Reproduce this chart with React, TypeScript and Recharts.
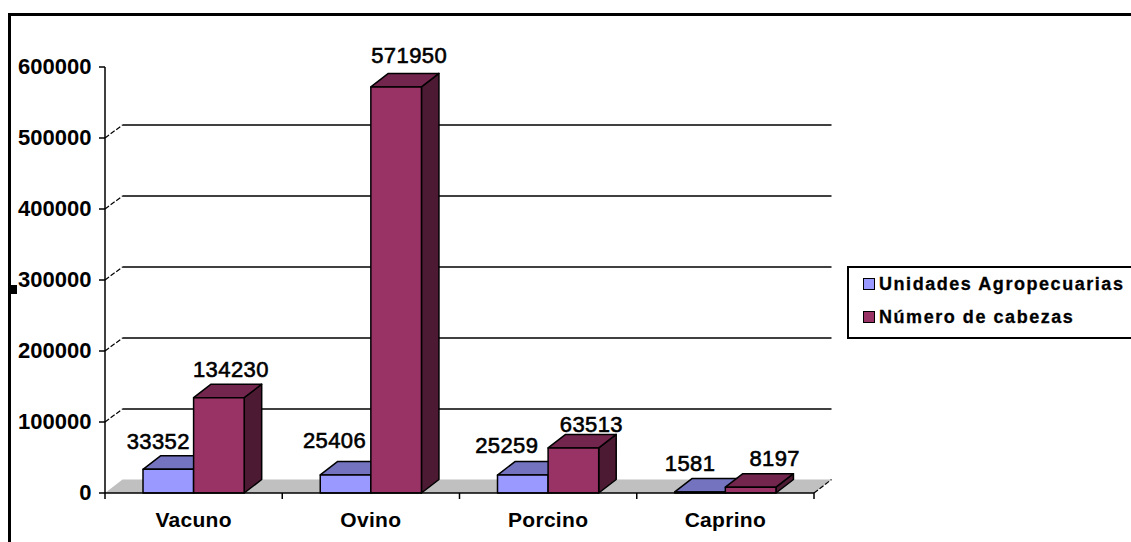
import { Bar, BarChart, CartesianGrid, LabelList, Legend, XAxis, YAxis } from "recharts";

const especies = ["Vacuno", "Ovino", "Porcino", "Caprino"];
const unidades = [33352, 25406, 25259, 1581];
const cabezas = [134230, 571950, 63513, 8197];
const yTicks = [0, 100000, 200000, 300000, 400000, 500000, 600000];

const rows = especies.map((nombre, i) => ({ nombre, unidades: unidades[i], cabezas: cabezas[i] }));

const FONT = "'Liberation Sans', Arial, sans-serif";
const DEPTH_X = 17.5;
const DEPTH_Y = 13.5;
const WALL_Y = 13;

// hand-placed label shifts, one [dx, dy] per category
const unidadesNudge = [[-10, -28], [-11, -35], [-16, -30], [-10, -29]];
const cabezasNudge = [[12, -29], [13, -32], [18, -24], [24, -29]];

const Box3D = ({ x, y, width, height, front, top, side }: any) => {
  const r = x + width;
  const b = y + height;
  return (
    <g stroke="#000" strokeWidth={1.5} strokeLinejoin="round">
      <polygon points={`${r},${y} ${r + DEPTH_X},${y - DEPTH_Y} ${r + DEPTH_X},${b - DEPTH_Y} ${r},${b}`} fill={side} />
      <polygon points={`${x},${y} ${x + DEPTH_X},${y - DEPTH_Y} ${r + DEPTH_X},${y - DEPTH_Y} ${r},${y}`} fill={top} />
      <rect x={x} y={y} width={width} height={height} fill={front} />
    </g>
  );
};

// floor for the zero line, back-wall rule for the others, nothing at the top
const WallLine = ({ x1, x2, y1, y, height }: any) => {
  if (y1 <= y + 0.5) return <g />;
  if (y1 >= y + height - 0.5) {
    return (
      <g>
        <polygon
          points={`${x1},${y1} ${x1 + DEPTH_X},${y1 - DEPTH_Y} ${x2 + DEPTH_X},${y1 - DEPTH_Y} ${x2},${y1}`}
          fill="#c0c0c0"
        />
        <line x1={x2} y1={y1} x2={x2 + DEPTH_X} y2={y1 - DEPTH_Y} stroke="#000" strokeWidth={1.2} strokeDasharray="5 2" />
      </g>
    );
  }
  return (
    <g fill="none" stroke="#000">
      <line x1={x1} y1={y1} x2={x1 + DEPTH_X} y2={y1 - WALL_Y} strokeWidth={1.2} strokeDasharray="5 2" />
      <line x1={x1 + DEPTH_X} y1={y1 - WALL_Y} x2={x2 + DEPTH_X} y2={y1 - WALL_Y} strokeWidth={1.6} />
    </g>
  );
};

// tick marks sit between categories, so they are drawn with the tick text
const CategoryTick = ({ x, y, payload, index, width, visibleTicksCount }: any) => {
  const band = width / visibleTicksCount;
  const axisY = y - 8;
  return (
    <g>
      <line x1={x - band / 2} x2={x - band / 2} y1={axisY} y2={axisY + 6} stroke="#000" strokeWidth={1.5} />
      {index === visibleTicksCount - 1 && (
        <line x1={x + band / 2} x2={x + band / 2} y1={axisY} y2={axisY + 6} stroke="#000" strokeWidth={1.5} />
      )}
      <text
        x={x}
        y={axisY + 34}
        textAnchor="middle"
        fontFamily={FONT}
        fontSize={21}
        fontWeight="bold"
        letterSpacing={0.3}
        fill="#000"
      >
        {payload.value}
      </text>
    </g>
  );
};

const valueLabel = (nudge: number[][]) => ({ x, y, width, value, index }: any) => (
  <text
    x={x + width / 2 + nudge[index][0]}
    y={y + nudge[index][1] + 8}
    textAnchor="middle"
    fontFamily={FONT}
    fontSize={22}
    letterSpacing={0.4}
    fill="#000"
    stroke="#000"
    strokeWidth={0.6}
  >
    {value}
  </text>
);

const LegendBox = ({ payload }: any) => (
  <div
    style={{
      marginLeft: 33,
      height: 69,
      border: "2px solid #000",
      borderRight: "none",
      boxSizing: "content-box",
      fontFamily: FONT,
      fontSize: 18,
      fontWeight: "bold",
      letterSpacing: 1.55,
      color: "#000",
      WebkitTextStroke: "0.3px #000",
    }}
  >
    {(payload ?? []).map((item: any, i: number) => (
      <div key={item.value} style={{ position: "absolute", left: 49, top: i === 0 ? 8 : 41, whiteSpace: "nowrap" }}>
        <span
          style={{
            display: "inline-block",
            width: 10,
            height: 10,
            background: item.color,
            border: "1.5px solid #000",
            marginRight: 4,
          }}
        />
        {item.value}
      </div>
    ))}
  </div>
);

export default function App() {
  return (
    <div style={{ position: "fixed", left: 0, top: 0, width: 1131, height: 542, background: "#fff", overflow: "hidden" }}>
      <div style={{ position: "absolute", left: 8, top: 13, width: 1130, height: 540, borderLeft: "3.5px solid #000", borderTop: "3.5px solid #000" }} />
      <div style={{ position: "absolute", left: 10, top: 285, width: 7, height: 9, background: "#000" }} />
      <BarChart
        width={1131}
        height={542}
        data={rows}
        margin={{ top: 67, right: 0, bottom: 0, left: 0 }}
        barSize={50.6}
        barGap={0}
        style={{ position: "absolute", left: 0, top: 0 }}
      >
        <CartesianGrid vertical={false} horizontal={(p: any) => <WallLine {...p} />} />
        <XAxis
          dataKey="nombre"
          height={49}
          axisLine={{ stroke: "#000", strokeWidth: 1.5 }}
          tickLine={false}
          interval={0}
          tick={(p: any) => <CategoryTick {...p} />}
        />
        <YAxis
          width={105}
          domain={[0, 600000]}
          ticks={yTicks}
          interval={0}
          tickSize={6}
          tickMargin={7.5}
          axisLine={{ stroke: "#000", strokeWidth: 1.5 }}
          tickLine={{ stroke: "#000", strokeWidth: 1.5 }}
          tick={{ fill: "#000", fontFamily: FONT, fontSize: 22, fontWeight: "bold", dy: -1 }}
        />
        <Legend
          layout="vertical"
          align="right"
          verticalAlign="middle"
          width={317}
          itemSorter={null}
          wrapperStyle={{ top: 266, right: 0 }}
          content={(p: any) => <LegendBox {...p} />}
        />
        <Bar
          dataKey="unidades"
          name="Unidades Agropecuarias"
          fill="#9999ff"
          isAnimationActive={false}
          shape={(p: any) => <Box3D {...p} front="#9999ff" top="#7373bf" side="#4d4d80" />}
        >
          <LabelList dataKey="unidades" content={valueLabel(unidadesNudge)} />
        </Bar>
        <Bar
          dataKey="cabezas"
          name="Número de cabezas"
          fill="#993366"
          isAnimationActive={false}
          shape={(p: any) => <Box3D {...p} front="#993366" top="#73264d" side="#4d1a33" />}
        >
          <LabelList dataKey="cabezas" content={valueLabel(cabezasNudge)} />
        </Bar>
      </BarChart>
    </div>
  );
}
